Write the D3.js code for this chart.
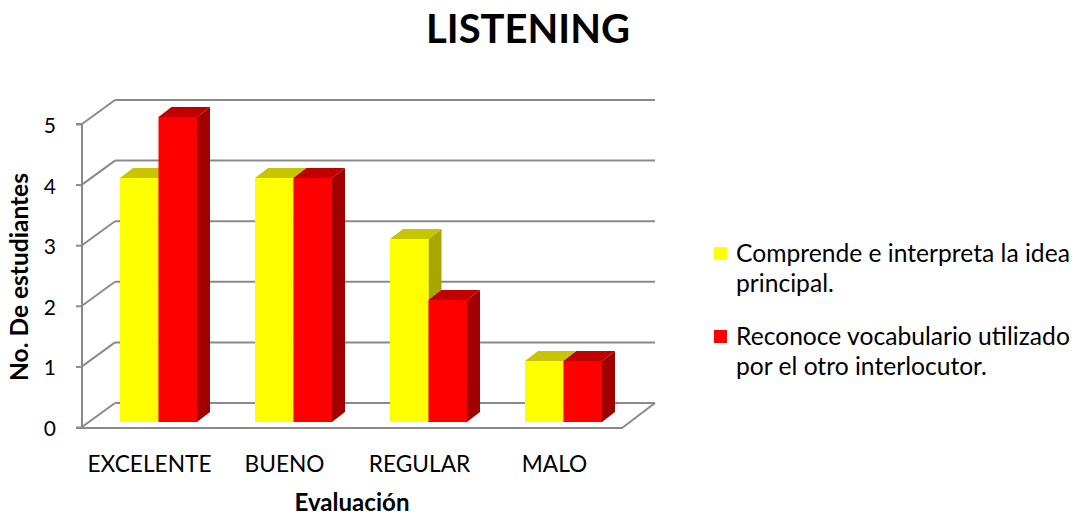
<!DOCTYPE html>
<html>
<head>
<meta charset="utf-8">
<script src="https://cdn.jsdelivr.net/npm/d3@7"></script>
<style>
  html, body { margin: 0; padding: 0; background: #fff; }
  svg { display: block; font-family: Lato, "Open Sans", sans-serif; }
</style>
</head>
<body>
<svg id="chart" width="1081" height="516"></svg>
<script>
// Evaluation categories and number of students per criterion
const categories = ["EXCELENTE", "BUENO", "REGULAR", "MALO"];
const seriesNames = [
  "Comprende e interpreta la idea principal.",
  "Reconoce vocabulario utilizado por el otro interlocutor."
];
const comprende = [4, 4, 3, 1];
const reconoce = [5, 4, 2, 1];
const yTicks = [0, 1, 2, 3, 4, 5];

const seriesValues = [comprende, reconoce];
const palette = [
  { front: "#FFFF00", top: "#C8C400", side: "#A8A600" },
  { front: "#FF0000", top: "#C00000", side: "#A20000" }
];

const svg = d3.select("#chart");

// Scale a text element's font so its rendered width equals the given width
function fitWidth(sel, width) {
  const node = sel.node();
  const fs = parseFloat(sel.attr("font-size"));
  const w = node.getComputedTextLength();
  if (w > 0) sel.attr("font-size", (fs * width / w).toFixed(2));
  return sel;
}

// Front plane of the 3D box
const x = d3.scaleBand().domain(categories).range([82, 622]);
const y = d3.scaleLinear().domain([0, 5]).range([427, 124]);
const wallDx = 33, wallDy = -24;

// Bars sit inside the box, slightly behind the front plane
const yBar = d3.scaleLinear().domain([0, 5]).range([422, 117]);
const barOffset = 38;
const xSeries = d3.scaleBand().domain(d3.range(seriesValues.length)).range([0, 77]);
const barDx = 13, barDy = -10;

const gridColor = "#8a8a8a";

// Back wall gridlines and side wall diagonals
const grid = svg.append("g");
yTicks.forEach(t => {
  const yf = y(t);
  grid.append("line")
    .attr("x1", x.range()[0] + wallDx).attr("x2", x.range()[1] + wallDx)
    .attr("y1", yf + wallDy).attr("y2", yf + wallDy)
    .attr("stroke", gridColor).attr("stroke-width", 2);
  grid.append("line")
    .attr("x1", x.range()[0]).attr("x2", x.range()[0] + wallDx)
    .attr("y1", yf).attr("y2", yf + wallDy)
    .attr("stroke", gridColor).attr("stroke-width", 2);
});

// Floor outline
grid.append("path")
  .attr("d", `M${x.range()[0]},${y(0) + 1}H${x.range()[1]}L${x.range()[1] + wallDx},${y(0) + wallDy}`)
  .attr("fill", "none").attr("stroke", gridColor).attr("stroke-width", 2);

// Y axis with ticks on the front plane
const yAxis = d3.axisLeft(y).tickValues(yTicks).tickFormat(d3.format("d")).tickSize(6).tickPadding(20);
const yg = svg.append("g").attr("transform", `translate(${x.range()[0]},0)`).call(yAxis);
yg.select(".domain").attr("stroke", gridColor).attr("stroke-width", 2)
  .attr("d", `M-6,${y(5)}H0V${y(0) + 1}H-6`);
yg.selectAll(".tick line").attr("stroke", gridColor).attr("stroke-width", 2);
yg.selectAll(".tick text").attr("font-size", 21).attr("fill", "#000")
  .attr("font-family", "Lato, sans-serif").attr("dy", "0.4em");

// X axis category labels
const xAxis = d3.axisBottom(x).tickSize(0).tickPadding(0);
const xg = svg.append("g").attr("transform", `translate(0,${y(0)})`).call(xAxis);
xg.select(".domain").remove();
xg.selectAll(".tick text").attr("font-size", 20).attr("fill", "#000")
  .attr("font-family", "Lato, sans-serif").attr("dy", 0).attr("y", 45);
const firstLabel = xg.select(".tick text");
const baseFs = parseFloat(firstLabel.attr("font-size"));
fitWidth(firstLabel, 124);
xg.selectAll(".tick text").attr("font-size", firstLabel.attr("font-size"));

// 3D bars
const bars = svg.append("g");
categories.forEach((c, ci) => {
  seriesValues.forEach((vals, si) => {
    const v = vals[ci];
    const x0 = x(c) + barOffset + xSeries(si);
    const x1 = x0 + xSeries.bandwidth();
    const yt = yBar(v), yb = yBar(0);
    const col = palette[si];
    const g = bars.append("g");
    g.append("path")
      .attr("d", `M${x1},${yt}L${x1 + barDx},${yt + barDy}L${x1 + barDx},${yb + barDy}L${x1},${yb}Z`)
      .attr("fill", col.side);
    g.append("path")
      .attr("d", `M${x0},${yt}L${x0 + barDx},${yt + barDy}L${x1 + barDx},${yt + barDy}L${x1},${yt}Z`)
      .attr("fill", col.top);
    g.append("rect")
      .attr("x", x0).attr("y", yt)
      .attr("width", x1 - x0).attr("height", yb - yt)
      .attr("fill", col.front);
  });
});

// Title
fitWidth(svg.append("text")
  .attr("x", 528).attr("y", 43)
  .attr("text-anchor", "middle")
  .attr("font-size", 36).attr("font-weight", "bold")
  .text("LISTENING"), 204);

// Axis titles
fitWidth(svg.append("text")
  .attr("transform", "translate(28,277) rotate(-90)")
  .attr("text-anchor", "middle")
  .attr("font-size", 20).attr("font-weight", "bold")
  .text("No. De estudiantes"), 208);

fitWidth(svg.append("text")
  .attr("x", 352).attr("y", 511)
  .attr("text-anchor", "middle")
  .attr("font-size", 20).attr("font-weight", "bold")
  .text("Evaluación"), 115);

// Legend
const legendLines = [
  ["Comprende e interpreta la idea", "principal."],
  ["Reconoce vocabulario utilizado", "por el otro interlocutor."]
];
const legend = svg.append("g").attr("transform", "translate(714,0)");
let legendFs = null;
legendLines.forEach((lines, i) => {
  const top = 247 + i * 83;
  legend.append("rect")
    .attr("x", 0).attr("y", top)
    .attr("width", 13).attr("height", 13)
    .attr("fill", palette[i].front);
  lines.forEach((ln, j) => {
    const t = legend.append("text")
      .attr("x", 22).attr("y", top + 15 + j * 30)
      .attr("font-size", 21)
      .text(ln);
    if (i === 0 && j === 0) { fitWidth(t, 334); legendFs = t.attr("font-size"); }
    else t.attr("font-size", legendFs);
  });
});
</script>
</body>
</html>
